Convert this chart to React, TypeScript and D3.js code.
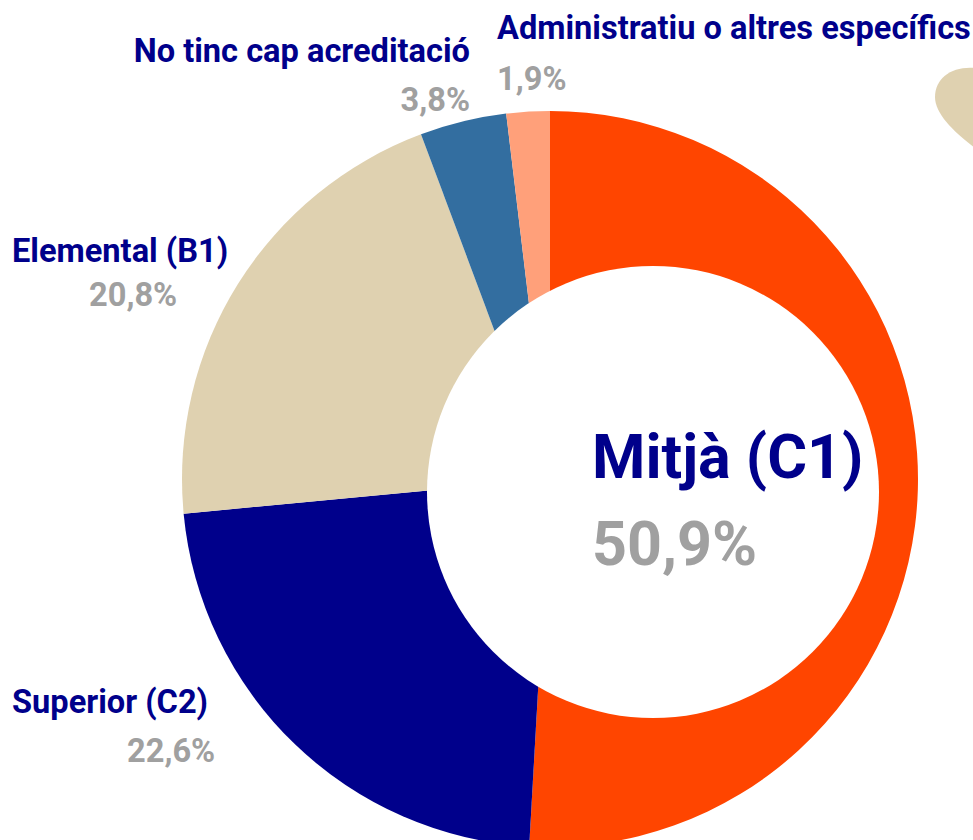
import React from "react";
import * as d3 from "d3";

const categories = [
  "Mitjà (C1)",
  "Superior (C2)",
  "Elemental (B1)",
  "No tinc cap acreditació",
  "Administratiu o altres específics",
];
const values = [50.9, 22.6, 20.8, 3.8, 1.9];
const colors = ["#FF4500", "#00008B", "#DFD1B0", "#336EA0", "#FFA07A"];

// label layout (name x, name baseline, pct x, pct baseline, anchor)
const labelLayout = [
  { nx: 592, ny: 478, px: 592, py: 565, anchor: "start", size: 61 },
  { nx: 12, ny: 713, px: 127, py: 762, anchor: "start", size: 32.6 },
  { nx: 12, ny: 262, px: 89, py: 306, anchor: "start", size: 32.6 },
  { nx: 470, ny: 62, px: 470, py: 111, anchor: "end", size: 32.6 },
  { nx: 497, ny: 39, px: 497, py: 90, anchor: "start", size: 32.6 },
];

const W = 973;
const H = 840;
const cx = 550;
const cy = 479;
const R = 368;
const holeCx = 653;
const holeCy = 492;
const holeR = 226;

const fmt = (v: number) => d3.format(".1f")(v).replace(".", ",") + "%";

export default function App() {
  const pie = d3.pie<number>().sort(null).value((d) => d)(values);
  const arc = d3.arc<d3.PieArcDatum<number>>().innerRadius(0).outerRadius(R);
  const font = "Roboto, 'Noto Sans', sans-serif";
  return (
    <svg
      width={W}
      height={H}
      style={{ position: "absolute", left: 0, top: 0, background: "#fff" }}
    >
      <path
        d="M 975 68 C 952 66, 935 78, 935 97 C 935 114, 954 132, 975 148 Z"
        fill="#DFD1B0"
      />
      <g transform={`translate(${cx},${cy})`}>
        {pie.map((p, i) => (
          <path key={i} d={arc(p) || ""} fill={colors[i]} />
        ))}
      </g>
      <circle cx={holeCx} cy={holeCy} r={holeR} fill="#fff" />
      {categories.map((c, i) => {
        const L = labelLayout[i];
        return (
          <g key={c} fontFamily={font} fontWeight={700}>
            <text
              x={L.nx}
              y={L.ny}
              fontSize={L.size}
              fill="#00008B"
              textAnchor={L.anchor as any}
            >
              {c}
            </text>
            <text
              x={L.px}
              y={L.py}
              fontSize={L.size}
              fill="#A0A0A0"
              textAnchor={L.anchor as any}
            >
              {fmt(values[i])}
            </text>
          </g>
        );
      })}
    </svg>
  );
}
